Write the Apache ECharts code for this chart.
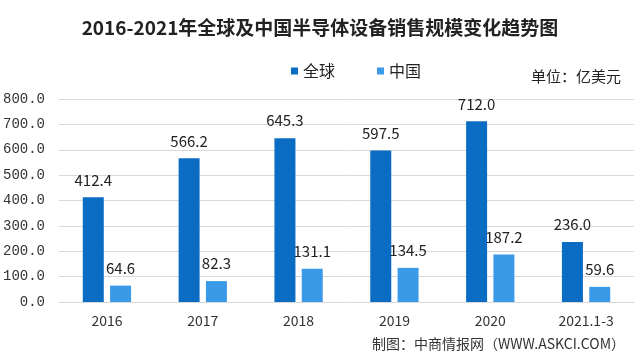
<!DOCTYPE html>
<html><head><meta charset="utf-8">
<script src="https://cdn.jsdelivr.net/npm/echarts@6/dist/echarts.min.js"></script>
<style>html,body{margin:0;padding:0;background:#fff}#c{width:640px;height:362px}</style>
</head><body><div id="c"></div>
<script>
const categories = ['2016','2017','2018','2019','2020','2021.1-3'];
const globalVals = [412.4, 566.2, 645.3, 597.5, 712.0, 236.0];
const chinaVals = [64.6, 82.3, 131.1, 134.5, 187.2, 59.6];
const seriesNames = ['全球','中国'];
const titleText = '2016-2021年全球及中国半导体设备销售规模变化趋势图';
const unitText = '单位：亿美元';
const sourceText = '制图：中商情报网（WWW.ASKCI.COM）';

const chart = echarts.init(document.getElementById('c'), null, {renderer:'canvas'});
const font = '"Noto Sans CJK SC", "Noto Sans", sans-serif';
const label = {show:true, position:'top', distance:10, color:'#222', fontSize:15, fontFamily:font,
  formatter: p => p.value.toFixed(1)};
chart.setOption({
  backgroundColor:'#fff',
  animation:false,
  title:[
    {text:titleText, left:'center', top:13, textStyle:{fontSize:19, fontWeight:'bold', color:'#222', fontFamily:font}},
    {text:unitText, right:14, top:64, textStyle:{fontSize:15, fontWeight:'normal', color:'#222', fontFamily:font}},
    {text:sourceText, right:10, top:332, textStyle:{fontSize:14, fontWeight:'normal', color:'#333', fontFamily:font}}
  ],
  legend:{data:seriesNames, top:58, left:286, itemWidth:7, itemHeight:7, itemGap:42, icon:'rect',
    textStyle:{fontSize:16, color:'#222', fontFamily:font}},
  grid:{left:54, right:6, top:99, bottom:60, containLabel:false},
  xAxis:{type:'category', data:categories,
    axisLine:{show:true, lineStyle:{color:'#d9d9d9'}}, axisTick:{show:false},
    axisLabel:{color:'#333', fontSize:14, margin:12, fontFamily:font}},
  yAxis:{type:'value', min:0, max:800, interval:100,
    axisLabel:{color:'#333', fontSize:14, margin:14, fontFamily:'"Liberation Mono", "DejaVu Sans Mono", monospace', formatter:v=>v.toFixed(1)},
    splitLine:{lineStyle:{color:'#d9d9d9'}}, axisLine:{show:false}, axisTick:{show:false}},
  series:[
    {name:seriesNames[0], type:'bar', data:globalVals, barWidth:21, barGap:'30%', itemStyle:{color:'#0B6CC4'}, label},
    {name:seriesNames[1], type:'bar', data:chinaVals, barWidth:21, itemStyle:{color:'#3A9AE8'}, label}
  ]
});
</script></body></html>
